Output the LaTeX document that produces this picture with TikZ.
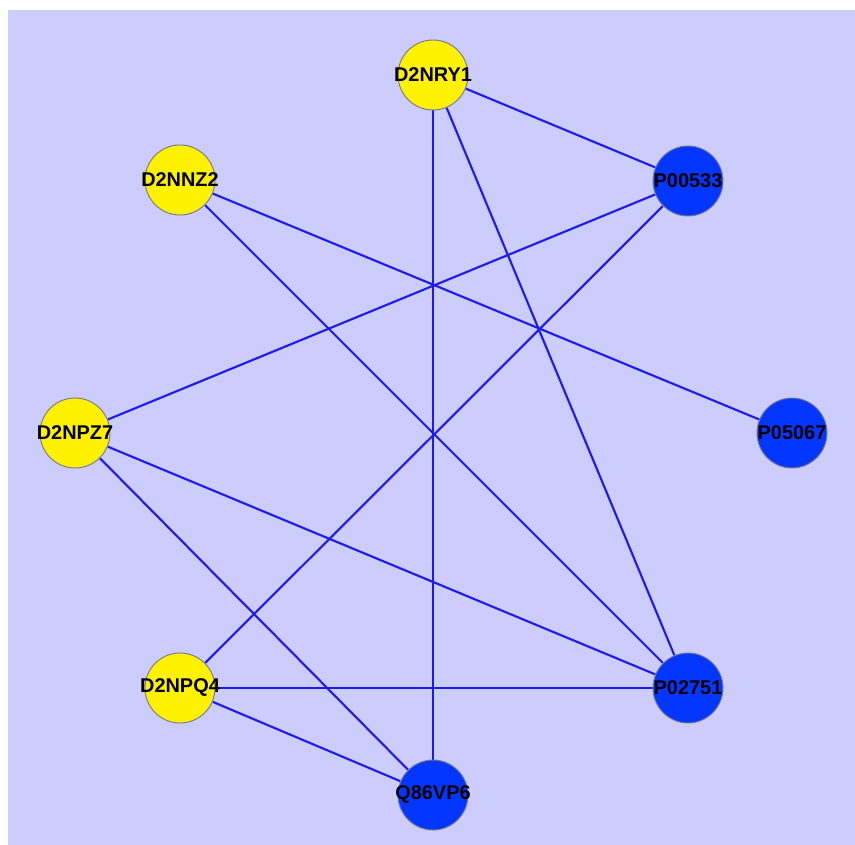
\documentclass[tikz,border=0pt]{standalone}
\usepackage{fontspec}
\setmainfont{Liberation Sans}
\usepackage{tikz}
\definecolor{bgcol}{HTML}{CCCCFF}
\definecolor{linkcol}{HTML}{1A1AF5}
\definecolor{protcol}{HTML}{0336FF}
\definecolor{rimcol}{HTML}{7A7A8A}
\pgfdeclarelayer{canvas}
\pgfdeclarelayer{wires}
\pgfsetlayers{canvas,wires,main}

\begin{document}
\begin{tikzpicture}[
    x=0.03cm, y=-0.03cm,
    vertex/.style={circle, draw=rimcol, line width=0.8pt, minimum size=2.1cm, inner sep=0pt,
        label={[font=\fontsize{17}{17}\selectfont\bfseries, text=black, inner sep=0pt]center:#1}},
    dnode/.style={vertex=#1, fill=yellow},
    pnode/.style={vertex=#1, fill=protcol},
    link/.style={linkcol, line width=1.8pt}
]
\useasboundingbox (0,0) rectangle (855,845);
\begin{pgfonlayer}{canvas}
\fill[bgcol] (8,10) rectangle (855,845);
\end{pgfonlayer}

% === Nodes on the ring ===
\node[dnode=D2NRY1] (nry1) at (433,75) {};
\node[dnode=D2NNZ2] (nnz2) at (180,180) {};
\node[pnode=P00533] (p533) at (688,181) {};
\node[dnode=D2NPZ7] (npz7) at (75,433) {};
\node[pnode=P05067] (p5067) at (792,433) {};
\node[dnode=D2NPQ4] (npq4) at (180,688) {};
\node[pnode=P02751] (p2751) at (688,688) {};
\node[pnode=Q86VP6] (q86) at (433,795) {};

% === Edges ===
\begin{pgfonlayer}{wires}
\foreach \a/\b in {nry1/p533, nry1/q86, nry1/p2751, nnz2/p5067, nnz2/p2751,
                   p533/npz7, p533/npq4, npz7/p2751, npz7/q86, npq4/p2751, npq4/q86}
  \draw[link] (\a) -- (\b);
\end{pgfonlayer}
\end{tikzpicture}
\end{document}
